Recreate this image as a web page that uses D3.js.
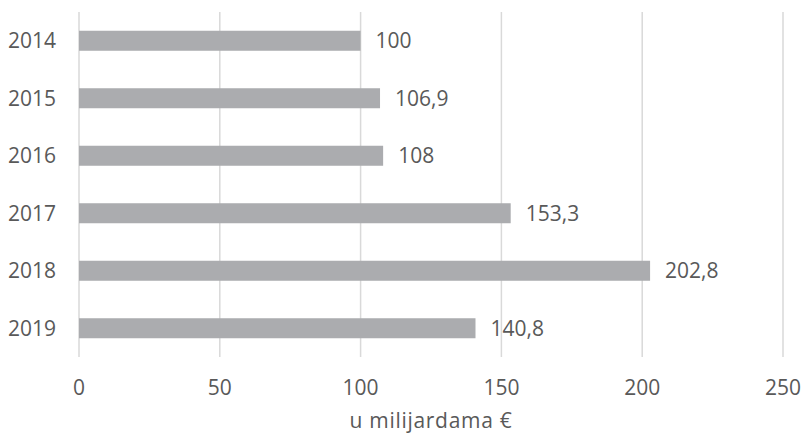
<!DOCTYPE html>
<html><head><meta charset="utf-8">
<script src="https://cdn.jsdelivr.net/npm/d3@7"></script>
<style>body{margin:0;background:#fff}text{font-family:"Open Sans",sans-serif;fill:#595959}</style>
</head><body><svg id="c" width="801" height="436"></svg>
<script>
const years = ["2014","2015","2016","2017","2018","2019"];
const values = [100, 106.9, 108, 153.3, 202.8, 140.8];
const valueLabels = ["100","106,9","108","153,3","202,8","140,8"];
const xTicks = [0,50,100,150,200,250];
const axisTitle = "u milijardama €";

const svg = d3.select("#c");
const x = d3.scaleLinear().domain([0,250]).range([79,783]);
const y = d3.scaleBand().domain(years).range([12,357]).paddingInner(0.652).paddingOuter(0.326);

svg.append("g").selectAll("line").data(xTicks).join("line")
  .attr("x1",d=>x(d)).attr("x2",d=>x(d)).attr("y1",12).attr("y2",357)
  .attr("stroke","#D9D9D9").attr("stroke-width",1.5);

svg.append("g").selectAll("rect").data(years).join("rect")
  .attr("x",x(0)).attr("y",d=>y(d))
  .attr("width",(d,i)=>x(values[i])-x(0)).attr("height",y.bandwidth())
  .attr("fill","#ABACAF");

svg.append("g").selectAll("text").data(years).join("text")
  .attr("x",(d,i)=>x(values[i])+15).attr("y",d=>y(d)+y.bandwidth()/2+7.5)
  .attr("font-size","21px").text((d,i)=>valueLabels[i]);

svg.append("g").selectAll("text").data(years).join("text")
  .attr("x",56).attr("y",d=>y(d)+y.bandwidth()/2+7.5)
  .attr("text-anchor","end").attr("font-size","21px").text(d=>d);

svg.append("g").selectAll("text").data(xTicks).join("text")
  .attr("x",d=>x(d)).attr("y",395)
  .attr("text-anchor","middle").attr("font-size","21px").text(d=>d);

svg.append("text").attr("x",(x(0)+x(250))/2).attr("y",428)
  .attr("text-anchor","middle").attr("font-size","21px").attr("letter-spacing","0.7px").text(axisTitle);
</script></body></html>
